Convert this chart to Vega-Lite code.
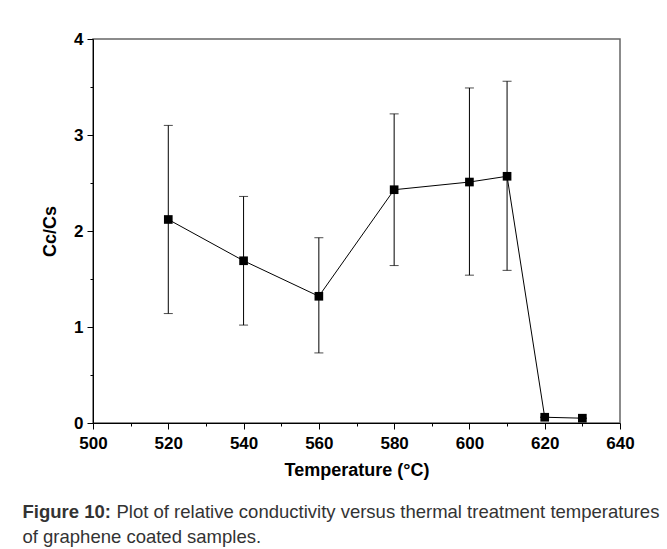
{
  "$schema": "https://vega.github.io/schema/vega-lite/v6.json",
  "autosize": {"type": "none"},
  "width": 527,
  "height": 384,
  "padding": {"left": 93, "top": 39, "right": 47, "bottom": 126},
  "background": "white",
  "config": {
    "view": {"stroke": "#666666", "strokeWidth": 1.5},
    "font": "Liberation Sans"
  },
  "resolve": {"axis": {"x": "independent", "y": "independent"}},
  "data": {
    "values": [
      {"T": 520, "v": 2.12, "lo": 1.14, "hi": 3.10},
      {"T": 540, "v": 1.69, "lo": 1.02, "hi": 2.36},
      {"T": 560, "v": 1.32, "lo": 0.73, "hi": 1.93},
      {"T": 580, "v": 2.43, "lo": 1.64, "hi": 3.22},
      {"T": 600, "v": 2.51, "lo": 1.54, "hi": 3.49},
      {"T": 610, "v": 2.57, "lo": 1.59, "hi": 3.56},
      {"T": 620, "v": 0.06, "lo": 0.06, "hi": 0.06},
      {"T": 630, "v": 0.05, "lo": 0.05, "hi": 0.05}
    ]
  },
  "layer": [
    {
      "mark": {"type": "rule", "color": "black", "strokeWidth": 1},
      "encoding": {
        "x": {
          "field": "T", "type": "quantitative",
          "scale": {"domain": [500, 640], "nice": false, "zero": false},
          "axis": {
            "title": "Temperature (°C)",
            "values": [500, 510, 520, 530, 540, 550, 560, 570, 580, 590, 600, 610, 620, 630, 640],
            "labelExpr": "datum.value % 20 === 0 ? format(datum.value, 'd') : ''",
            "grid": false,
            "domainColor": "black",
            "domainWidth": 1,
            "tickColor": "black",
            "tickWidth": 1,
            "tickSize": {"condition": {"test": "datum.value % 20 === 0", "value": 6}, "value": 3},
            "labelPadding": 6,
            "labelFontSize": 17,
            "labelFontWeight": "bold",
            "labelColor": "black",
            "labelFlush": false,
            "titleFontSize": 18,
            "titleFontWeight": "bold",
            "titleColor": "black",
            "titlePadding": 10
          }
        },
        "y": {
          "field": "lo", "type": "quantitative",
          "scale": {"domain": [0, 4], "nice": false},
          "axis": {
            "title": "Cc/Cs",
            "values": [0, 0.5, 1, 1.5, 2, 2.5, 3, 3.5, 4],
            "labelExpr": "datum.value % 1 === 0 ? format(datum.value, 'd') : ''",
            "grid": false,
            "domainColor": "black",
            "domainWidth": 1,
            "tickColor": "black",
            "tickWidth": 1,
            "tickSize": {"condition": {"test": "datum.value % 1 === 0", "value": 6}, "value": 3},
            "labelPadding": 4,
            "labelFontSize": 17,
            "labelFontWeight": "bold",
            "labelColor": "black",
            "labelFlush": false,
            "titleFontSize": 18,
            "titleFontWeight": "bold",
            "titleColor": "black",
            "titlePadding": 14
          }
        },
        "y2": {"field": "hi"}
      }
    },
    {
      "mark": {"type": "tick", "orient": "horizontal", "color": "black", "thickness": 1, "size": 9},
      "encoding": {
        "x": {
          "field": "T", "type": "quantitative",
          "scale": {"domain": [500, 640], "nice": false, "zero": false},
          "axis": {
            "title": "Figure 10:",
            "domain": false, "ticks": false, "labels": false, "grid": false,
            "titleX": -71, "titleY": 478,
            "titleAlign": "left", "titleAnchor": "start", "titleBaseline": "alphabetic",
            "titleFont": "Liberation Sans", "titleFontSize": 18.5, "titleFontWeight": "bold", "titleColor": "#333333"
          }
        },
        "y": {
          "field": "hi", "type": "quantitative",
          "scale": {"domain": [0, 4], "nice": false},
          "axis": {
            "orient": "right",
            "offset": 47,
            "values": [4.28125],
            "domain": false, "labels": false, "grid": false, "title": null,
            "ticks": true, "tickSize": -658, "tickColor": "#3fc2b0", "tickWidth": 1.5
          }
        }
      }
    },
    {
      "mark": {"type": "tick", "orient": "horizontal", "color": "black", "thickness": 1, "size": 9},
      "encoding": {
        "x": {
          "field": "T", "type": "quantitative",
          "scale": {"domain": [500, 640], "nice": false, "zero": false},
          "axis": {
            "title": "Plot of relative conductivity versus thermal treatment temperatures",
            "domain": false, "ticks": false, "labels": false, "grid": false,
            "titleX": 23, "titleY": 478,
            "titleAlign": "left", "titleAnchor": "start", "titleBaseline": "alphabetic",
            "titleFont": "Liberation Sans", "titleFontSize": 18.5, "titleFontWeight": "normal", "titleColor": "#333333"
          }
        },
        "y": {"field": "lo", "type": "quantitative", "scale": {"domain": [0, 4], "nice": false}, "axis": null}
      }
    },
    {
      "mark": {"type": "line", "color": "black", "strokeWidth": 1},
      "encoding": {
        "x": {
          "field": "T", "type": "quantitative",
          "scale": {"domain": [500, 640], "nice": false, "zero": false},
          "axis": {
            "title": "of graphene coated samples.",
            "domain": false, "ticks": false, "labels": false, "grid": false,
            "titleX": -71, "titleY": 503,
            "titleAlign": "left", "titleAnchor": "start", "titleBaseline": "alphabetic",
            "titleFont": "Liberation Sans", "titleFontSize": 18.5, "titleFontWeight": "normal", "titleColor": "#333333"
          }
        },
        "y": {"field": "v", "type": "quantitative", "scale": {"domain": [0, 4], "nice": false}, "axis": null}
      }
    },
    {
      "mark": {"type": "square", "color": "black", "filled": true, "opacity": 1, "size": 75},
      "encoding": {
        "x": {
          "field": "T", "type": "quantitative",
          "scale": {"domain": [500, 640], "nice": false, "zero": false},
          "axis": {
            "orient": "bottom",
            "offset": 126,
            "values": [477.68],
            "domain": false, "labels": false, "grid": false, "title": null,
            "ticks": true, "tickSize": -537, "tickColor": "#3fc2b0", "tickWidth": 1.5
          }
        },
        "y": {"field": "v", "type": "quantitative", "scale": {"domain": [0, 4], "nice": false}, "axis": null}
      }
    }
  ]
}
